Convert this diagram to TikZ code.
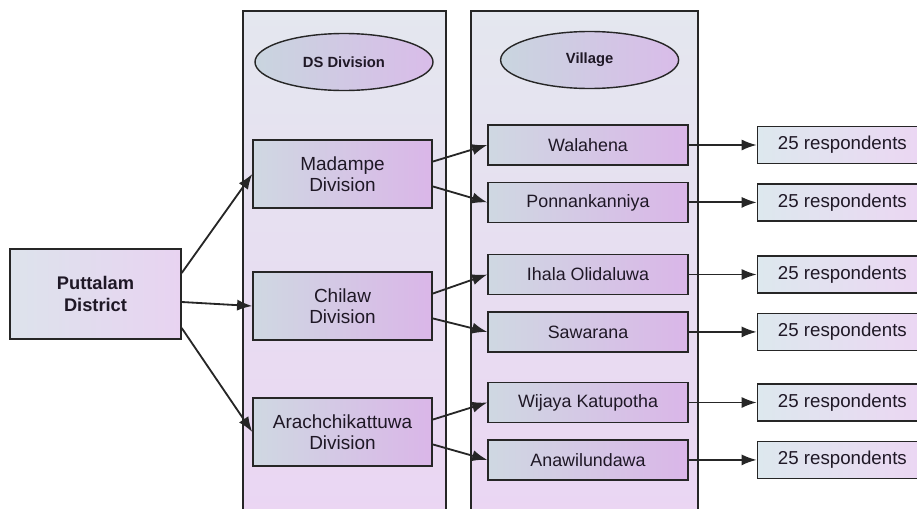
\documentclass[tikz,border=0pt]{standalone}
\usepackage{fontspec}
\setmainfont{Liberation Sans}
\usetikzlibrary{arrows.meta,positioning,shapes.geometric}

\begin{document}
\begin{tikzpicture}[
        node distance=4mm,
        line width=1pt,
        font=\fontsize{12.7}{15}\selectfont,
        link/.style={-{Latex[length=3.8mm,width=2.8mm]},draw=linex,line width=1.3pt},
        box/.style={draw=linex,left color=bxl,right color=bxr,text=txt,align=center,inner sep=0pt},
        divbox/.style={box,minimum width=4.475cm,minimum height=1.7cm,font=\fontsize{13.5}{15}\selectfont},
        vilbox/.style={box,minimum width=5cm,minimum height=1cm},
        resbox/.style={draw=linex,left color=rsl,right color=rsr,text=txt,minimum width=4.25cm,minimum height=0.925cm,
            inner sep=0pt,font=\fontsize{13.3}{15}\selectfont},
        head/.style={ellipse,draw=linex,left color=ell,right color=elr,text=txt,inner sep=0pt,
            minimum width=4.45cm,minimum height=1.425cm,font=\fontsize{10.5}{12}\selectfont\bfseries},
        lane/.style={draw=linex,top color=lnt,bottom color=lnb}
    ]
        \definecolor{linex}{HTML}{262626}
        \definecolor{txt}{HTML}{1F1826}
        \definecolor{bxl}{HTML}{CFD8E2}
        \definecolor{bxr}{HTML}{DAB6E8}
        \definecolor{rsl}{HTML}{DDE8EE}
        \definecolor{rsr}{HTML}{ECD6F3}
        \definecolor{ell}{HTML}{C9D5DF}
        \definecolor{elr}{HTML}{D9BCE9}
        \definecolor{lnt}{HTML}{E4E7EF}
        \definecolor{lnb}{HTML}{EBD5F3}
        \definecolor{ptl}{HTML}{DDE3EC}
        \definecolor{ptr}{HTML}{E8D3F1}

        \useasboundingbox (0,0) rectangle (22.925,-12.7);
        \clip (0,0) rectangle (22.925,-12.7);

        % lanes
        \path[lane] (6.075,-0.275) rectangle (11.15,-13.5);
        \path[lane] (11.775,-0.275) rectangle (17.45,-13.5);
        \node (dshead)  [head] at (8.6,-1.55)   {DS Division};
        \node (vilhead) [head] at (14.74,-1.5)  {Village};

        % district
        \node (put) [box,left color=ptl,right color=ptr,minimum width=4.275cm,minimum height=2.25cm,
            font=\fontsize{13}{16}\selectfont\bfseries] at (2.3875,-7.35) {Puttalam\\District};

        % divisions
        \node (mad) [divbox] at (8.5625,-4.35) {Madampe\\Division};
        \node (chi) [divbox] at (8.5625,-7.65) {Chilaw\\Division};
        \node (ara) [divbox] at (8.5625,-10.8) {Arachchikattuwa\\Division};

        % villages
        \node (wal) [vilbox] at (14.7,-3.625)       {Walahena};
        \node (pon) [vilbox,below=of wal]         {Ponnankanniya};
        \node (iha) [vilbox] at (14.7,-6.8625)      {Ihala Olidaluwa};
        \node (saw) [vilbox,below=of iha]         {Sawarana};
        \node (wij) [vilbox] at (14.7,-10.0625)     {Wijaya Katupotha};
        \node (ana) [vilbox,below=of wij]         {Anawilundawa};

        % respondents
        \begin{scope}[node distance=1.7cm]
            \node (r1) [resbox,right=of wal] {25 respondents};
            \node (r2) [resbox,right=of pon] {25 respondents};
            \node (r3) [resbox,right=of iha] {25 respondents};
            \node (r4) [resbox,right=of saw] {25 respondents};
            \node (r5) [resbox,right=of wij] {25 respondents};
            \node (r6) [resbox,right=of ana] {25 respondents};
        \end{scope}

        \draw[link] ([yshift=5.25mm]put.east)  -- (mad.west);
        \draw[link] ([yshift=-2mm]put.east)    -- (chi.west);
        \draw[link] ([yshift=-8.5mm]put.east)  -- (ara.west);

        \draw[link] ([yshift=3.1mm]mad.east)  -- (wal.west);
        \draw[link] ([yshift=-3.1mm]mad.east) -- (pon.west);
        \draw[link] ([yshift=3.1mm]chi.east)  -- (iha.west);
        \draw[link] ([yshift=-3.1mm]chi.east) -- (saw.west);
        \draw[link] ([yshift=3.1mm]ara.east)  -- (wij.west);
        \draw[link] ([yshift=-3.1mm]ara.east) -- (ana.west);

        \foreach \v/\r in {wal/r1,pon/r2,iha/r3,saw/r4,wij/r5,ana/r6}
            \draw[link] (\v.east) -- (\r.west);
\end{tikzpicture}
\end{document}
